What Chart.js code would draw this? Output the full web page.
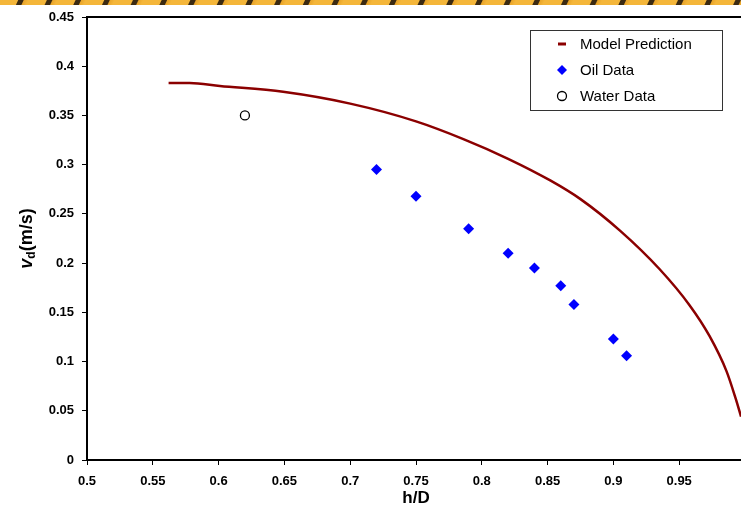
<!DOCTYPE html>
<html>
<head>
<meta charset="utf-8">
<script src="https://cdn.jsdelivr.net/npm/chart.js@4/dist/chart.umd.min.js"></script>
<style>
  html, body { margin: 0; padding: 0; background: #fff; }
  #wrap { position: relative; width: 741px; height: 523px; overflow: hidden; background: #fff; }
  #rope { position: absolute; left: 0; top: 0; width: 741px; height: 5px;
    background: repeating-linear-gradient(115deg, #f4b63a 0px, #f4b63a 16px, #3b2a12 17px, #3b2a12 21px, #e9a52a 22px, #f4b63a 26px); z-index: 2; }
  canvas { position: absolute; left: 0; top: 0; }
</style>
</head>
<body>
<div id="wrap">
  <div id="rope"></div>
  <canvas id="c" width="760" height="523"></canvas>
</div>
<script>
// ---- Data ----
const modelX = [0.562, 0.570, 0.578, 0.601, 0.649, 0.700, 0.750, 0.786, 0.820, 0.852, 0.875, 0.905, 0.935, 0.958, 0.973, 0.986, 0.993, 0.997];
const modelY = [0.383, 0.383, 0.383, 0.380, 0.374, 0.362, 0.344, 0.326, 0.306, 0.284, 0.265, 0.233, 0.194, 0.157, 0.126, 0.090, 0.062, 0.044];
const oilX = [0.72, 0.75, 0.79, 0.82, 0.84, 0.86, 0.87, 0.90, 0.91];
const oilY = [0.295, 0.268, 0.235, 0.210, 0.195, 0.177, 0.158, 0.123, 0.106];
const waterX = [0.62];
const waterY = [0.35];
const seriesLabels = ['Model Prediction', 'Oil Data', 'Water Data'];
const xAxisTitle = 'h/D';
const yTitleMain = 'v';
const yTitleSub = 'd';
const yTitleRest = '(m/s)';

const pts = (xs, ys) => xs.map((x, i) => ({ x: x, y: ys[i] }));
const fmt = v => String(Number(v.toFixed(2)));
const FONT = '"Liberation Sans", Arial, sans-serif';

const decor = {
  id: 'decor',
  afterDraw(chart) {
    const ctx = chart.ctx;
    const a = chart.chartArea;
    ctx.save();
    // top border of plot area
    ctx.strokeStyle = '#000';
    ctx.lineWidth = 2;
    ctx.beginPath();
    ctx.moveTo(a.left, a.top);
    ctx.lineTo(a.right, a.top);
    ctx.stroke();

    // x axis title
    ctx.fillStyle = '#000';
    ctx.font = 'bold 17px ' + FONT;
    ctx.textAlign = 'center';
    ctx.textBaseline = 'middle';
    ctx.fillText(xAxisTitle, (a.left + 745) / 2, 498);

    // y axis title with subscript
    ctx.save();
    ctx.translate(25, (a.top + a.bottom) / 2);
    ctx.rotate(-Math.PI / 2);
    ctx.textBaseline = 'alphabetic';
    ctx.textAlign = 'left';
    ctx.font = 'italic bold 18px ' + FONT;
    const w1 = ctx.measureText(yTitleMain).width;
    ctx.font = 'bold 12px ' + FONT;
    const w2 = ctx.measureText(yTitleSub).width;
    ctx.font = 'bold 18px ' + FONT;
    const w3 = ctx.measureText(yTitleRest).width;
    let x0 = -(w1 + w2 + w3) / 2;
    const base = 7;
    ctx.font = 'italic bold 18px ' + FONT;
    ctx.fillText(yTitleMain, x0, base);
    x0 += w1;
    ctx.font = 'bold 12px ' + FONT;
    ctx.fillText(yTitleSub, x0, base + 3);
    x0 += w2;
    ctx.font = 'bold 18px ' + FONT;
    ctx.fillText(yTitleRest, x0, base);
    ctx.restore();

    // legend box
    const lx = 530, ly = 30, lw = 192, lh = 80;
    ctx.fillStyle = '#fff';
    ctx.fillRect(lx, ly, lw, lh);
    ctx.strokeStyle = '#333';
    ctx.lineWidth = 1;
    ctx.strokeRect(lx + 0.5, ly + 0.5, lw, lh);
    const rows = [44, 70, 96];
    const sx = 562;
    ctx.font = '15px ' + FONT;
    ctx.textAlign = 'left';
    ctx.textBaseline = 'middle';
    chart.data.datasets.forEach((ds, i) => {
      const y = rows[i];
      if (i === 0) {
        ctx.strokeStyle = ds.borderColor;
        ctx.lineWidth = 3;
        ctx.beginPath();
        ctx.moveTo(sx - 4, y);
        ctx.lineTo(sx + 4, y);
        ctx.stroke();
      } else if (i === 1) {
        ctx.fillStyle = ds.backgroundColor;
        ctx.beginPath();
        ctx.moveTo(sx, y - 5);
        ctx.lineTo(sx + 5, y);
        ctx.lineTo(sx, y + 5);
        ctx.lineTo(sx - 5, y);
        ctx.closePath();
        ctx.fill();
      } else {
        ctx.fillStyle = '#fff';
        ctx.strokeStyle = ds.borderColor;
        ctx.lineWidth = 1.3;
        ctx.beginPath();
        ctx.arc(sx, y, 4.5, 0, Math.PI * 2);
        ctx.fill();
        ctx.stroke();
      }
      ctx.fillStyle = '#000';
      ctx.fillText(ds.label, 580, y + 1);
    });
    ctx.restore();
  }
};

new Chart(document.getElementById('c'), {
  type: 'scatter',
  data: {
    datasets: [
      {
        label: seriesLabels[0],
        data: pts(modelX, modelY),
        showLine: true,
        borderColor: '#8b0000',
        backgroundColor: '#8b0000',
        borderWidth: 2.5,
        pointRadius: 0,
        cubicInterpolationMode: 'monotone',
        order: 3
      },
      {
        label: seriesLabels[1],
        data: pts(oilX, oilY),
        pointStyle: 'rectRot',
        pointRadius: 5.5,
        backgroundColor: '#0000ff',
        borderColor: '#0000ff',
        borderWidth: 0,
        order: 2
      },
      {
        label: seriesLabels[2],
        data: pts(waterX, waterY),
        pointStyle: 'circle',
        pointRadius: 4.5,
        backgroundColor: '#ffffff',
        borderColor: '#000000',
        borderWidth: 1.3,
        order: 1
      }
    ]
  },
  options: {
    responsive: false,
    animation: false,
    devicePixelRatio: 1,
    layout: { padding: { left: 0, right: 15, top: 17, bottom: 0 } },
    plugins: { legend: { display: false }, tooltip: { enabled: false } },
    scales: {
      x: {
        type: 'linear',
        min: 0.5,
        max: 1.0,
        afterFit(s) { s.height = 63; },
        border: { display: true, color: '#000', width: 2 },
        grid: { display: true, drawOnChartArea: false, drawTicks: true, tickLength: 5, color: '#000', lineWidth: 1 },
        ticks: {
          stepSize: 0.05,
          padding: 9,
          color: '#000',
          font: { family: FONT, size: 13, weight: 'bold' },
          maxRotation: 0,
          autoSkip: false,
          callback: v => (v > 0.999 ? '' : fmt(v))
        }
      },
      y: {
        type: 'linear',
        min: 0,
        max: 0.45,
        afterFit(s) { s.width = 87; },
        border: { display: true, color: '#000', width: 2 },
        grid: { display: true, drawOnChartArea: false, drawTicks: true, tickLength: 5, color: '#000', lineWidth: 1 },
        ticks: {
          stepSize: 0.05,
          padding: 8,
          color: '#000',
          font: { family: FONT, size: 13, weight: 'bold' },
          autoSkip: false,
          callback: v => fmt(v)
        }
      }
    }
  },
  plugins: [decor]
});
</script>
</body>
</html>
